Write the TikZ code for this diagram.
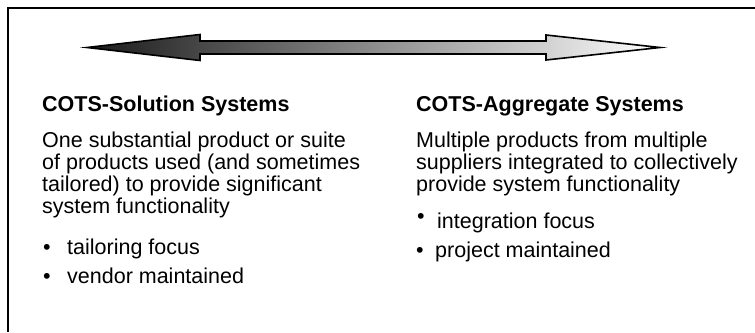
\documentclass[tikz,border=0pt]{standalone}
\usepackage{fontspec}
\setmainfont{Liberation Sans}
\begin{document}
\begin{tikzpicture}[x=1pt,y=-1pt,
  txt/.style={inner sep=0pt,anchor=base west,font=\fontsize{21.5}{22.5}\selectfont},
  head/.style={txt,font=\fontsize{21.5}{22.5}\selectfont\bfseries},
  dot/.style={inner sep=0pt,anchor=base west,font=\fontsize{21.5}{22.5}\selectfont},
  frameline/.style={line width=2pt},
  bigarrow/.style={draw=black,line width=1.6pt,line join=miter,left color=black!90,right color=white}]
\useasboundingbox (0,0) rectangle (755,332);
% open frame: top and left edges
\draw[frameline] (8,332) -- (8,8) -- (755,8);
% double-headed shaded arrow
\path[bigarrow] (87,47.5) -- (200,34.5) -- (200,41) -- (546,41) -- (546,35)
  -- (660,47.5) -- (546,60) -- (546,54) -- (200,54) -- (200,60.5) -- cycle;
% left column
\node[head] (lh) at (42,111) {COTS-Solution Systems};
\node[txt] (l1) at (42,147) {One substantial product or suite};
\node[txt] (l2) at (42,169) {of products used (and sometimes};
\node[txt] (l3) at (42,191) {tailored) to provide significant};
\node[txt] (l4) at (42,213) {system functionality};
\node[dot] (lb1) at (43,254) {•};
\node[txt] (lt1) at (67,254) {tailoring focus};
\node[dot] (lb2) at (43,283) {•};
\node[txt] (lt2) at (67,283) {vendor maintained};
% right column
\node[head] (rh) at (416,111) {COTS-Aggregate Systems};
\node[txt] (r1) at (416,147) {Multiple products from multiple};
\node[txt] (r2) at (416,169) {suppliers integrated to collectively};
\node[txt] (r3) at (416,191) {provide system functionality};
\node[dot] (rb1) at (417,223) {•};
\node[txt] (rt1) at (437,228) {integration focus};
\node[dot] (rb2) at (416,257) {•};
\node[txt] (rt2) at (435,257) {project maintained};
\end{tikzpicture}
\end{document}
